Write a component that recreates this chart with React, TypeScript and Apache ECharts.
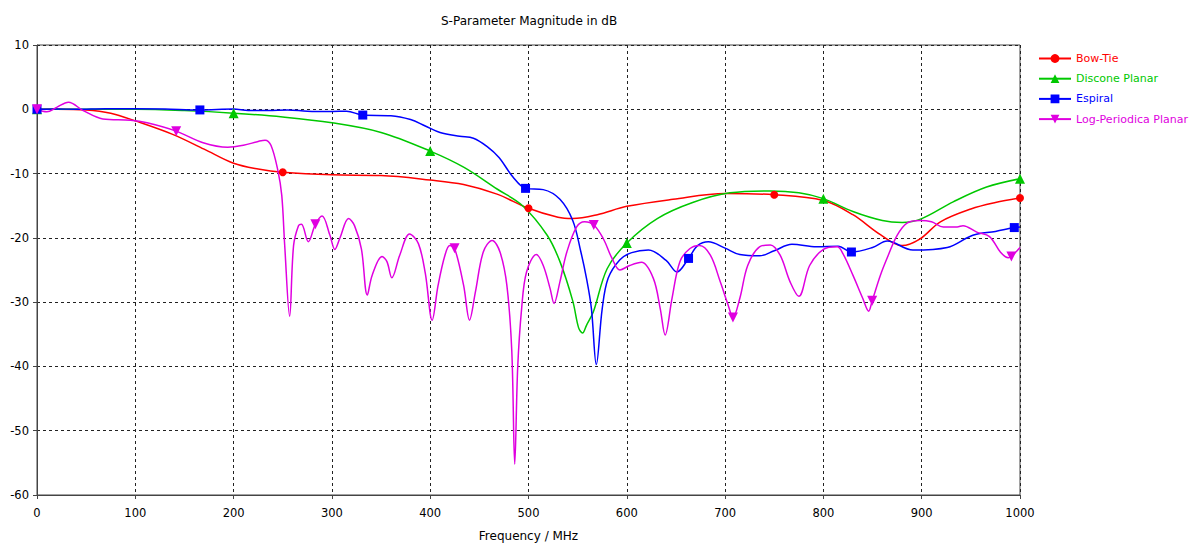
import React, { useEffect, useRef } from "react";
import * as echarts from "echarts";

// Frequency (MHz) / magnitude (dB) pairs for each antenna
const bowTie: [number, number][] = [
  [0, 0], [20, 0], [50, -0.1], [75, -0.6], [100, -1.8], [138, -3.9], [170, -6.2], [200, -8.4],
  [225, -9.3], [250, -9.8], [300, -10.2], [350, -10.3], [400, -11.0], [434, -11.7], [468, -13.2],
  [500, -15.4], [530, -16.8], [545, -17.0], [570, -16.4], [600, -15.1], [647, -14.0], [700, -13.1],
  [750, -13.3], [800, -14.2], [830, -16.4], [858, -19.5], [880, -21.2], [898, -20.2], [919, -17.5],
  [950, -15.5], [975, -14.5], [1000, -13.8],
];
const bowTieMarks = [0, 250, 500, 750, 1000];

const discone: [number, number][] = [
  [0, 0], [50, 0], [100, 0], [150, -0.2], [200, -0.6], [250, -1.2], [300, -2.1], [350, -3.6],
  [400, -6.5], [434, -9.0], [468, -12.4], [494, -15.0], [519, -19.6], [532, -23.7], [545, -29.8],
  [551, -34.0], [555, -34.8], [559, -33.6], [566, -31.5], [580, -24.8], [600, -20.8], [631, -17.0],
  [667, -14.5], [705, -13.0], [746, -12.7], [775, -13.0], [800, -13.9], [830, -15.9], [860, -17.3],
  [880, -17.6], [900, -17.0], [932, -14.4], [966, -12.1], [1000, -10.8],
];
const disconeMarks = [0, 200, 400, 600, 800, 1000];

const espiral: [number, number][] = [
  [0, 0], [20, 0.05], [40, 0], [70, 0.1], [100, 0.1], [130, 0.05], [165.7, -0.1], [200, 0.05],
  [215, -0.2], [235, -0.2], [255, -0.1], [275, -0.3], [300, -0.35], [315, -0.3], [331.4, -0.9],
  [360, -1.0], [380, -1.6], [395, -2.6], [410, -3.6], [430, -4.2], [444, -4.5], [458, -5.8],
  [470, -7.5], [484, -10.5], [497, -12.3], [515, -12.5], [532, -14.0], [545, -17.3], [553, -22.0],
  [559, -26.3], [564, -31.0], [569, -39.7], [575, -31.0], [581, -26.3], [593, -23.4], [605, -22.3],
  [622, -21.9], [640, -23.5], [651, -25.3], [662.8, -23.2], [672, -21.2], [683, -20.6], [700, -21.6],
  [715, -22.6], [735, -22.8], [750, -22.0], [768, -21.0], [793, -21.4], [815, -21.3], [828.5, -22.2],
  [850, -21.5], [865, -20.5], [891, -21.9], [926, -21.5], [952, -19.6], [975, -19.0], [994.2, -18.4],
  [1000, -18.3],
];
const espiralMarks = [0, 165.7, 331.4, 497, 662.8, 828.5, 994.2];

const logPeriodica: [number, number][] = [
  [0, 0], [10, -0.4], [20, 0.3], [32, 1.1], [47, -0.2], [67, -1.5], [95, -1.7], [112, -2.1],
  [141.6, -3.4], [169, -5.2], [194, -5.9], [210, -5.6], [225, -5.0], [232, -4.8], [238, -5.6],
  [245, -9.5], [249, -13.4], [252, -21.2], [257, -32.2], [261, -21.2], [266, -18.1], [269, -17.9],
  [276, -20.6], [283.2, -17.9], [290, -16.6], [298, -19.6], [303, -21.8], [308, -20.1], [317, -17.0],
  [323, -18.1], [330, -21.7], [336, -28.9], [341, -25.8], [351, -22.9], [356, -23.7], [361, -26.2],
  [369, -22.7], [379, -19.4], [388, -20.9], [395, -25.5], [402, -32.8], [408, -27.4], [415, -22.7],
  [420, -21.2], [424.8, -21.6], [434, -27.4], [440, -32.8], [446, -28.4], [454, -22.2], [463, -20.4],
  [471, -22.2], [478, -27.4], [483, -37.6], [486, -55.2], [489, -40.2], [493, -31.0], [498, -25.3],
  [508, -22.6], [515, -24.3], [522, -27.9], [526, -30.2], [532, -26.8], [539, -22.2], [549, -18.3],
  [557, -17.5], [566.4, -18.0], [576, -20.1], [585, -23.2], [593, -25.0], [603, -24.3], [615, -23.8],
  [627, -26.3], [634, -31.0], [639, -35.1], [646, -29.4], [654, -23.7], [664, -21.7], [674, -21.2],
  [685, -22.7], [695, -26.8], [703, -30.4], [708, -32.4], [715, -29.4], [723, -24.3], [735, -21.4],
  [746, -21.1], [756, -22.7], [766, -26.8], [775, -29.1], [786, -24.3], [800, -21.8], [814, -21.4],
  [820, -22.5], [830, -25.8], [840, -29.4], [846, -31.4], [849.6, -29.8], [858, -25.8], [866, -22.7],
  [875, -19.6], [885, -17.7], [898, -17.3], [910, -17.5], [922, -18.3], [936, -18.3], [942, -18.1],
  [956, -19.1], [969, -19.8], [980, -22.2], [988, -23.1], [991.2, -22.9], [1000, -21.5],
];
const logPeriodicaMarks = [0, 141.6, 283.2, 424.8, 566.4, 708, 849.6, 991.2];

const xTicks = { min: 0, max: 1000, step: 100 };
const yTicks = { min: -60, max: 10, step: 10 };

const FONT = "DejaVu Sans";

const COLORS = {
  bowTie: "#ff0000",
  discone: "#00c800",
  espiral: "#0000ff",
  logPeriodica: "#e000e0",
};

function lineSeries(
  name: string,
  color: string,
  symbol: string,
  symbolRotate: number,
  symbolSize: number,
  points: [number, number][],
  marks: number[]
) {
  return {
    name,
    type: "line",
    symbol,
    symbolRotate,
    symbolSize,
    showSymbol: true,
    showAllSymbol: true,
    smooth: 0.35,
    lineStyle: { color, width: 1.5 },
    itemStyle: { color },
    data: points.map(([x, y]) =>
      marks.includes(x) ? { value: [x, y] } : { value: [x, y], symbol: "none" }
    ),
  };
}

export default function App() {
  const ref = useRef<HTMLDivElement>(null);

  useEffect(() => {
    document.body.style.margin = "0";
    if (!ref.current) return;
    const chart = echarts.init(ref.current, undefined, { renderer: "svg" });

    const series = [
      lineSeries("Bow-Tie", COLORS.bowTie, "circle", 0, 8, bowTie, bowTieMarks),
      lineSeries("Discone Planar", COLORS.discone, "triangle", 0, 10, discone, disconeMarks),
      lineSeries("Espiral", COLORS.espiral, "rect", 0, 9, espiral, espiralMarks),
      lineSeries("Log-Periodica Planar", COLORS.logPeriodica, "triangle", 180, 10, logPeriodica, logPeriodicaMarks),
    ];

    const gridLine = { show: true, lineStyle: { color: "#222", type: [3, 3], width: 1 } };
    const plain = (v: number) => String(v);

    chart.setOption({
      animation: false,
      backgroundColor: "#ffffff",
      textStyle: { fontFamily: FONT },
      title: {
        text: "S-Parameter Magnitude in dB",
        left: 436,
        top: 10,
        textStyle: { fontFamily: FONT, fontSize: 12, fontWeight: "normal", color: "#000" },
      },
      legend: {
        orient: "vertical",
        left: 1033,
        top: 48,
        itemWidth: 32,
        itemHeight: 11,
        itemGap: 9.2,
        data: [
          { name: "Bow-Tie", textStyle: { color: COLORS.bowTie } },
          { name: "Discone Planar", textStyle: { color: COLORS.discone } },
          { name: "Espiral", textStyle: { color: COLORS.espiral } },
          { name: "Log-Periodica Planar", textStyle: { color: COLORS.logPeriodica } },
        ],
        textStyle: { fontFamily: FONT, fontSize: 11 },
      },
      grid: {
        left: 37,
        right: 176,
        top: 45,
        bottom: 49,
        show: true,
        borderColor: "#444",
        borderWidth: 1,
        backgroundColor: "#ffffff",
      },
      xAxis: {
        type: "value",
        min: xTicks.min,
        max: xTicks.max,
        interval: xTicks.step,
        name: "Frequency / MHz",
        nameLocation: "middle",
        nameGap: 35,
        nameTextStyle: { fontFamily: FONT, fontSize: 12, color: "#000" },
        axisLine: { show: true, onZero: false, lineStyle: { color: "#444" } },
        axisTick: { show: true, length: 4, lineStyle: { color: "#444" } },
        axisLabel: { fontFamily: FONT, fontSize: 11.5, color: "#000", margin: 12, formatter: plain },
        splitLine: gridLine,
      },
      yAxis: {
        type: "value",
        min: yTicks.min,
        max: yTicks.max,
        interval: yTicks.step,
        axisLine: { show: true, onZero: false, lineStyle: { color: "#444" } },
        axisTick: { show: true, length: 4, lineStyle: { color: "#444" } },
        axisLabel: { fontFamily: FONT, fontSize: 11.5, color: "#000", margin: 8, formatter: plain },
        splitLine: gridLine,
      },
      series,
    });

    return () => chart.dispose();
  }, []);

  return <div ref={ref} style={{ width: 1196, height: 547 }} />;
}
